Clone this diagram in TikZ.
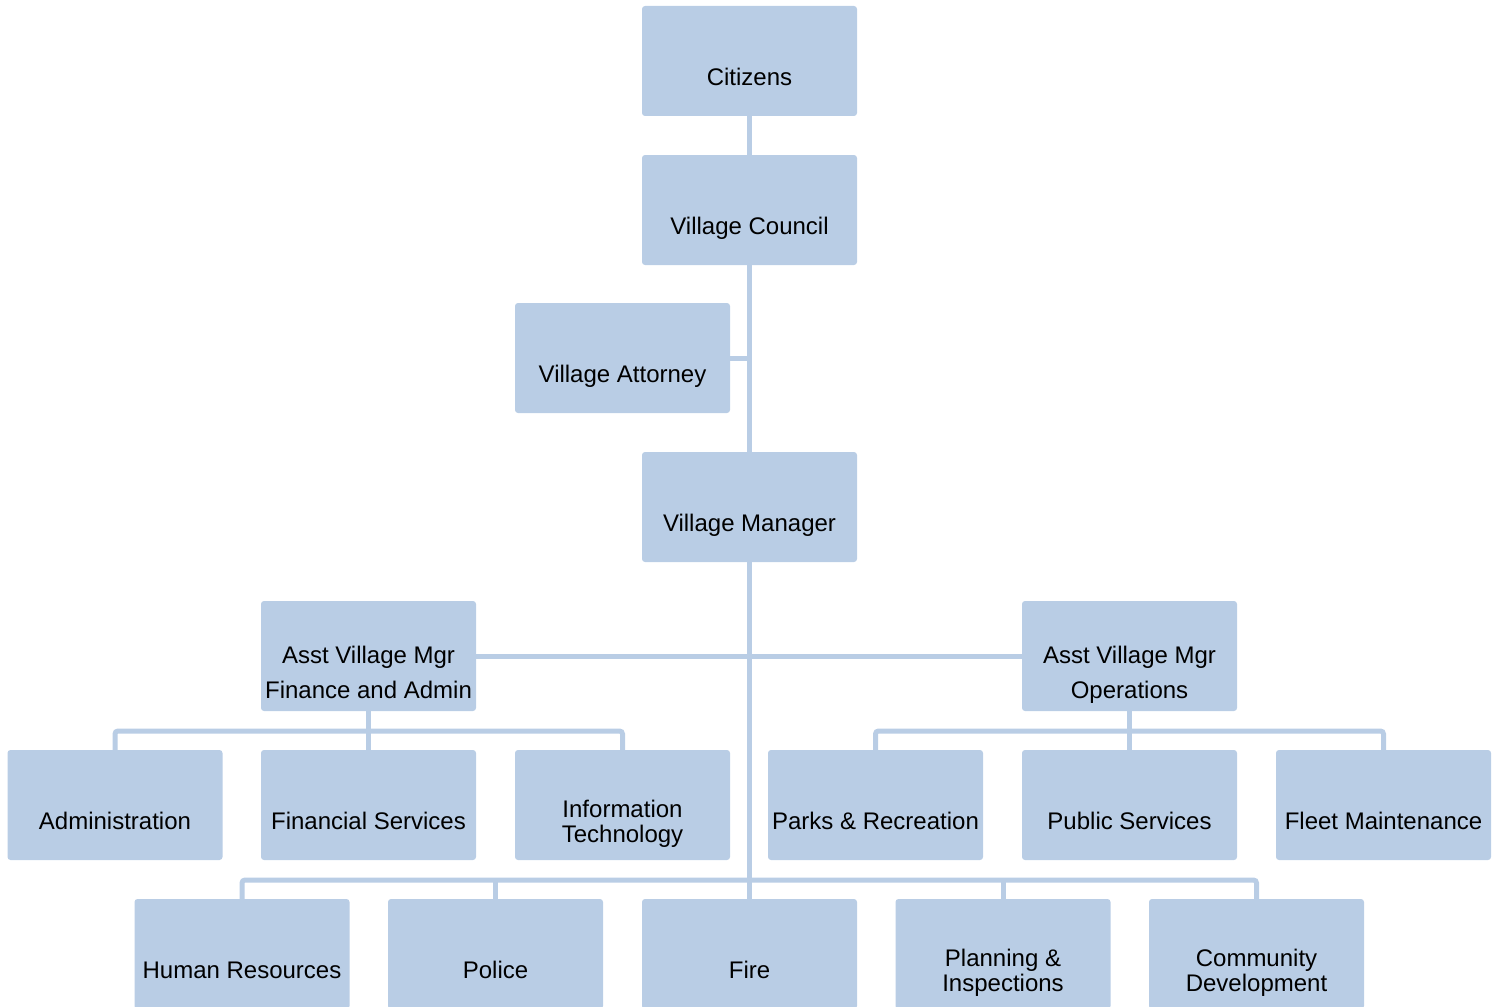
\documentclass[tikz,border=0pt]{standalone}
\usepackage{fontspec}
\setmainfont{Liberation Sans}
\definecolor{boxblue}{HTML}{B9CDE5}
\newcommand\mystrut{\rule[-5pt]{0pt}{22pt}}
\begin{document}
\begin{tikzpicture}[x=1pt,y=-1pt,
  box/.style={fill=boxblue, draw=none, rounded corners=3pt, minimum width=215pt, minimum height=110pt, inner sep=0pt},
  txt/.style={inner sep=0pt, align=center, text=black, font=\fontsize{24}{25}\selectfont},
  wide/.style={font=\fontsize{24}{35}\selectfont},
  conn/.style={draw=boxblue, line width=5pt, rounded corners=3pt}]
\useasboundingbox (0,0) rectangle (1503,1006);
\newcommand\orgbox[4][]{%
  \node[box] (#2) at (#3) {};
  \node[txt,#1] (#2-t) at ([yshift=-18.6pt]#2.center) {#4};}
% connectors
\coordinate (busFA) at (368.5,731);
\coordinate (busOP) at (1129.5,731);
\coordinate (busBT) at (749.5,880);
\coordinate (midH) at (749.5,656);
\orgbox{cit}{749.5,61}{\mystrut Citizens}
\orgbox{cou}{749.5,210}{\mystrut Village Council}
\orgbox{att}{622.5,358}{\mystrut Village Attorney}
\orgbox{man}{749.5,507}{\mystrut Village Manager}
\orgbox[wide]{afa}{368.5,656}{\mystrut Asst Village Mgr\\\mystrut Finance and Admin}
\orgbox[wide]{aop}{1129.5,656}{\mystrut Asst Village Mgr\\\mystrut Operations}
\orgbox{adm}{115,805}{\mystrut Administration}
\orgbox{fin}{368.5,805}{\mystrut Financial Services}
\orgbox{it}{622.5,805}{\mystrut Information\\\mystrut Technology}
\orgbox{par}{875.5,805}{\mystrut Parks \& Recreation}
\orgbox{pub}{1129.5,805}{\mystrut Public Services}
\orgbox{fle}{1383.5,805}{\mystrut Fleet Maintenance}
\orgbox{hr}{242,954}{\mystrut Human Resources}
\orgbox{pol}{495.5,954}{\mystrut Police}
\orgbox{fir}{749.5,954}{\mystrut Fire}
\orgbox{pla}{1003,954}{\mystrut Planning \&\\\mystrut Inspections}
\orgbox{com}{1256.5,954}{\mystrut Community\\\mystrut Development}
\path[conn] (cit.south) -- (cou.north);
\path[conn] (cou.south) -- (man.north);
\path[conn] (att.east) -- (att.east -| cou.south);
\path[conn] (man.south) -- (fir.north);
\path[conn] (afa.east) -- (aop.west);
\path[conn] (afa.south) -- (fin.north);
\path[conn] (adm.north) |- (busFA) -| (it.north);
\path[conn] (aop.south) -- (pub.north);
\path[conn] (par.north) |- (busOP) -| (fle.north);
\path[conn] (hr.north) |- (busBT) -| (com.north);
\path[conn] (pol.north) -- (pol.north |- busBT);
\path[conn] (pla.north) -- (pla.north |- busBT);
\end{tikzpicture}
\end{document}
